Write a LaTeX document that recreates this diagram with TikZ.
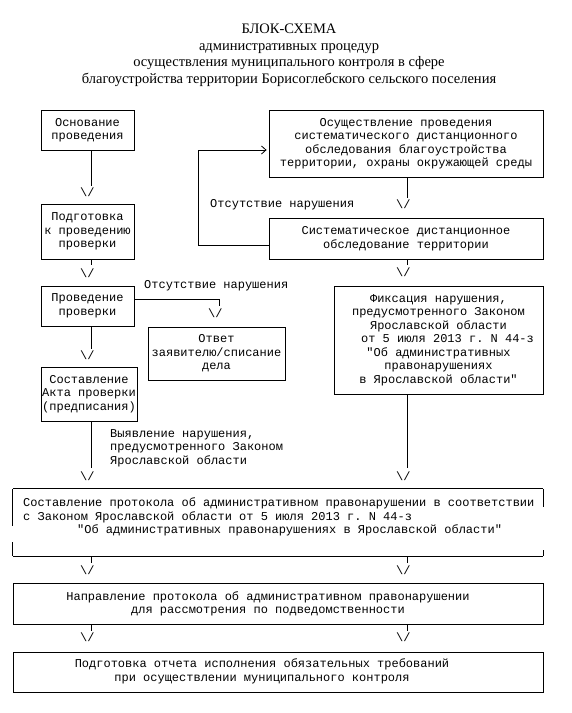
\documentclass[tikz,border=0pt]{standalone}
\usepackage{fontspec}
\setmainfont{Liberation Serif}
\setmonofont{Liberation Mono}
\usetikzlibrary{arrows.meta,calc}
\newcommand\monofnt{\ttfamily\fontsize{12}{13.5}\selectfont}
\newcommand\titlefnt{\rmfamily\fontsize{14.5}{16.5}\selectfont}
\begin{document}
\begin{tikzpicture}[x=1pt,y=-1pt,
  box/.style={draw, line width=0.8pt, inner sep=0pt, align=center, font=\monofnt},
  txt/.style={inner sep=0pt, font=\monofnt},
  arr/.style={inner sep=0pt, font=\monofnt},
  ln/.style={line width=0.8pt}]
\useasboundingbox (0,0) rectangle (571,713);

% title
\node[font=\titlefnt, align=center, inner sep=0pt] (title) at (289,55.5)
  {БЛОК-СХЕМА\\административных процедур\\осуществления муниципального контроля в сфере\\благоустройства территории Борисоглебского сельского поселения};

% left column boxes
\node[box, minimum width=93pt, minimum height=40pt] (b1) at (87.5,130) {Основание\\проведения};
\node[box, minimum width=93pt, minimum height=55pt] (b2) at (87.5,231.5) {Подготовка\\к проведению\\проверки};
\node[box, minimum width=93pt, minimum height=40pt] (b3) at (87.5,306) {Проведение\\проверки};
\node[box, minimum width=137pt, minimum height=53pt] (b4) at (216.5,353.5) {Ответ\\заявителю/списание\\дела};
\node[box, minimum width=96pt, minimum height=54pt] (b5) at (89,394) {Составление\\Акта проверки\\(предписания)};

% right column boxes
\node[box, minimum width=274pt, minimum height=67pt] (r1) at (406,143.5)
  {Осуществление проведения\\систематического дистанционного\\обследования благоустройства\\территории, охраны окружающей среды};
\node[box, minimum width=274pt, minimum height=41pt] (r2) at (406,238.5)
  {Систематическое дистанционное\\обследование территории};
\node[box, minimum width=209pt, minimum height=108pt] (r3) at (438.5,340)
  {Фиксация нарушения,\\предусмотренного Законом\\Ярославской области\\\hspace*{1.5em}от 5 июля 2013 г. N 44-з\\"Об административных\\правонарушениях\\в Ярославской области"};

% wide boxes
\node[inner sep=0pt, minimum width=530pt, minimum height=67pt] (B1) at (278,522.5) {};
\draw[ln] (B1.north west) -- (B1.north east);
\draw[ln] (B1.south west) -- (B1.south east);
\draw[ln] (B1.north west) -- ($(B1.north west)+(0,37)$);
\draw[ln] ($(B1.south west)+(0,-14)$) -- (B1.south west);
\draw[ln] (B1.north east) -- ($(B1.north east)+(0,18)$);
\draw[ln] ($(B1.south east)+(0,-6)$) -- (B1.south east);
\node[txt, anchor=west, align=left] (B1t) at (23,517)
  {Составление протокола об административном правонарушении в соответствии\\с Законом Ярославской области от 5 июля 2013 г. N 44-з\\\hspace*{54pt}"Об административных правонарушениях в Ярославской области"};

\node[box, minimum width=530pt, minimum height=41pt] (B2) at (278,603.5) {};
\node[txt, align=center] (B2t) at (268,604)
  {Направление протокола об административном правонарушении\\для рассмотрения по подведомственности};

\node[box, minimum width=530pt, minimum height=40pt] (B3) at (278,672) {};
\node[txt, align=center] (B3t) at (262,671.5)
  {Подготовка отчета исполнения обязательных требований\\при осуществлении муниципального контроля};

% labels
\node[txt, anchor=west] (lab1) at (210,205) {Отсутствие нарушения};
\node[txt, anchor=west] (lab2) at (144,286) {Отсутствие нарушения};
\node[txt, anchor=west, align=left] (lab3) at (110,448)
  {Выявление нарушения,\\предусмотренного Законом\\Ярославской области};

% arrow heads (text)
\node[arr] (aL1) at (87.4,192) {\textbackslash/};
\node[arr] (aL2) at (87.4,273) {\textbackslash/};
\node[arr] (aL3) at (87.4,355) {\textbackslash/};
\node[arr] (aL4) at (87.4,476) {\textbackslash/};
\node[arr] (aL5) at (87.4,570) {\textbackslash/};
\node[arr] (aL6) at (87.4,637) {\textbackslash/};
\node[arr] (aM1) at (215.4,313) {\textbackslash/};
\node[arr] (aR1) at (403.4,204) {\textbackslash/};
\node[arr] (aR2) at (403.4,272) {\textbackslash/};
\node[arr] (aR4) at (403.4,476) {\textbackslash/};
\node[arr] (aR5) at (403.4,570) {\textbackslash/};
\node[arr] (aR6) at (403.4,637) {\textbackslash/};

% connector ends
\coordinate (cL1) at (91,186);
\coordinate (cL2) at (91,265);
\coordinate (cL3) at (91,349);
\coordinate (cL4) at (91,468);
\coordinate (cL5) at (91,563);
\coordinate (cL6) at (91,631);
\coordinate (cM0) at (219,299);
\coordinate (cM1) at (219,306);
\coordinate (cR1) at (407,198);
\coordinate (cR2) at (407,265);
\coordinate (cR4) at (407,468);
\coordinate (cR5) at (407,563);
\coordinate (cR6) at (407,631);
\coordinate (lp1) at (198,245);
\coordinate (lp2) at (198,150);

% connectors
\draw[ln] (b1.south -| cL1) -- (cL1);
\draw[ln] (b2.south -| cL2) -- (cL2);
\draw[ln] (b3.south -| cL3) -- (cL3);
\draw[ln] (b5.south -| cL4) -- (cL4);
\draw[ln] (B1.south -| cL5) -- (cL5);
\draw[ln] (B2.south -| cL6) -- (cL6);
\draw[ln] (b3.east |- cM0) -- (cM0) -- (cM1);
\draw[ln] (r1.south -| cR1) -- (cR1);
\draw[ln] (r2.south -| cR2) -- (cR2);
\draw[ln] (r3.south -| cR4) -- (cR4);
\draw[ln] (B1.south -| cR5) -- (cR5);
\draw[ln] (B2.south -| cR6) -- (cR6);
\draw[ln, -{Straight Barb[length=4.5pt,width=8pt]}, shorten >=2pt] (r2.west |- lp1) -- (lp1) -- (lp2) -- (r1.west |- lp2);
\end{tikzpicture}
\end{document}
